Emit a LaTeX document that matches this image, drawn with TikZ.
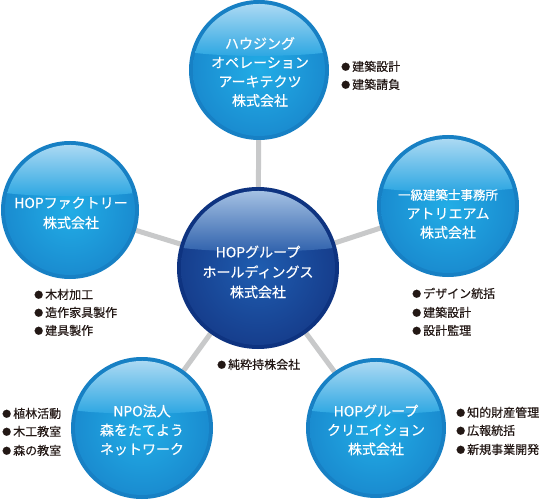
\documentclass[tikz,border=0pt]{standalone}
\usepackage{fontspec}
\setmainfont{Noto Sans CJK JP}[BoldFont={Noto Sans CJK JP}, BoldFeatures={FakeBold=0.45}]
\usetikzlibrary{backgrounds}
\definecolor{lbEdge}{HTML}{1780C4}
\definecolor{lbIn}{HTML}{22ADE6}
\definecolor{lbOut}{HTML}{1A8CD0}
\definecolor{lbHiTop}{HTML}{BCE0F5}
\definecolor{lbHiBot}{HTML}{2BA6E2}
\definecolor{dbEdge}{HTML}{0E3380}
\definecolor{dbIn}{HTML}{1F5DB0}
\definecolor{dbOut}{HTML}{163E8D}
\definecolor{dbHiTop}{HTML}{B3CDEA}
\definecolor{dbHiBot}{HTML}{2F61AC}
\definecolor{connGray}{HTML}{C8C9CA}
\definecolor{bulText}{HTML}{231815}
\newcommand{\bdot}{{\fontsize{9}{9}\selectfont\raisebox{0.8pt}{●}}\hspace{2pt}}
\tikzset{
  ball/.style n args={6}{circle, inner sep=0pt, minimum size=#1pt, fill=#2,
    path picture={
      \pgfmathsetmacro\R{#1/2-4}
      \begin{scope}[shift={(path picture bounding box.center)}, x=1pt, y=1pt]
        \shade[inner color=#3, outer color=#4] (0,0) circle[radius=\R];
        \shade[top color=#5, bottom color=#6] (165:\R) arc[start angle=165, end angle=15, radius=\R]
          .. controls ({0.5*\R},{0.2*\R}) and ({-0.5*\R},{0.2*\R}) .. cycle;
      \end{scope}
    }},
  lightball/.style={ball={#1}{lbEdge}{lbIn}{lbOut}{lbHiTop}{lbHiBot}},
  darkball/.style={ball={#1}{dbEdge}{dbIn}{dbOut}{dbHiTop}{dbHiBot}},
  balltext/.style={text=white, align=center, inner sep=0pt, font=\fontsize{14}{20}\selectfont\bfseries},
  bul/.style={anchor=base west, inner sep=0pt, text=bulText, font=\fontsize{12}{18}\selectfont\bfseries},
  conn/.style={draw=connGray, line width=5pt},
}
\begin{document}
\begin{tikzpicture}[x=1pt,y=-1pt]
\useasboundingbox (0,0) rectangle (541,500);
% balls
\node[darkball=162] (hub) at (258,268) {};
\node[lightball=140] (hous) at (259,70) {};
\node[lightball=138] (fact) at (70,210) {};
\node[lightball=142] (atel) at (448,206) {};
\node[lightball=142] (npo) at (142,428) {};
\node[lightball=140] (crea) at (376,428) {};
% connectors
\begin{scope}[on background layer]
  \fill[white] (0,0) rectangle (541,500);
  \draw[conn] (hub.center) -- (hous.center);
  \draw[conn] (hub.center) -- (fact.center);
  \draw[conn] (hub.center) -- (atel.center);
  \draw[conn] (hub.center) -- (npo.center);
  \draw[conn] (hub.center) -- (crea.center);
\end{scope}
% ball texts
\node[balltext, font=\fontsize{14}{19}\selectfont\bfseries] (houst) at (260,72) {ハウジング\\オペレーション\\アーキテクツ\\株式会社};
\node[balltext] (factt) at (71,213) {HOPファクトリー\\株式会社};
\node[balltext] (hubt) at (258,272) {HOPグループ\\ホールディングス\\株式会社};
\node[balltext, font=\fontsize{14}{19}\selectfont\bfseries] (atelt) at (448,214) {{\fontsize{12.5}{19}\selectfont 一級建築士事務所}\\アトリエアム\\株式会社};
\node[balltext, font=\fontsize{14}{19}\selectfont\bfseries] (npot) at (142,430) {NPO法人\\森をたてよう\\ネットワーク};
\node[balltext, font=\fontsize{14}{19}\selectfont\bfseries] (creat) at (376,430) {HOPグループ\\クリエイション\\株式会社};
% bullet lists
\node[bul] (h1) at (341,71) {\bdot 建築設計};
\node[bul] (h2) at (341,89) {\bdot 建築請負};
\node[bul] (f1) at (34,299) {\bdot 木材加工};
\node[bul] (f2) at (34,317) {\bdot 造作家具製作};
\node[bul] (f3) at (34,335) {\bdot 建具製作};
\node[bul] (c1) at (217,369) {\bdot 純粋持株会社};
\node[bul] (a1) at (412,298) {\bdot デザイン統括};
\node[bul] (a2) at (412,317) {\bdot 建築設計};
\node[bul] (a3) at (412,335) {\bdot 設計監理};
\node[bul] (n1) at (2,418) {\bdot 植林活動};
\node[bul] (n2) at (2,436) {\bdot 木工教室};
\node[bul] (n3) at (2,455) {\bdot 森の教室};
\node[bul] (k1) at (456,417) {\bdot 知的財産管理};
\node[bul] (k2) at (456,435) {\bdot 広報統括};
\node[bul] (k3) at (456,454) {\bdot 新規事業開発};
\end{tikzpicture}
\end{document}
